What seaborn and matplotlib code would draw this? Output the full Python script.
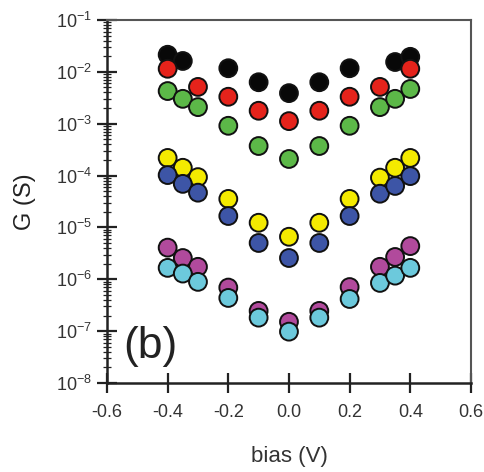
import numpy as np
import pandas as pd
import matplotlib
matplotlib.use("Agg")
import matplotlib.pyplot as plt
from matplotlib.ticker import LogLocator, LogFormatterMathtext, NullFormatter, FixedLocator
import seaborn as sns

# bias points (V)
bias = [-0.4, -0.35, -0.3, -0.2, -0.1, 0.0, 0.1, 0.2, 0.3, 0.35, 0.4]

# log10 of conductance G (S) for each curve; None = no measurement
logG_black = [-1.67, -1.79, None, -1.93, -2.20, -2.41, -2.20, -1.93, None, -1.81, -1.71]
logG_red = [-1.94, None, -2.29, -2.48, -2.75, -2.95, -2.75, -2.48, -2.29, None, -1.94]
logG_green = [-2.37, -2.52, -2.68, -3.04, -3.43, -3.68, -3.43, -3.04, -2.68, -2.52, -2.33]
logG_yellow = [-3.66, -3.85, -4.03, -4.45, -4.91, -5.18, -4.91, -4.45, -4.04, -3.85, -3.66]
logG_blue = [-3.99, -4.16, -4.33, -4.78, -5.30, -5.59, -5.30, -4.78, -4.35, -4.20, -4.01]
logG_magenta = [-5.39, -5.59, -5.76, -6.16, -6.61, -6.82, -6.61, -6.15, -5.76, -5.57, -5.36]
logG_cyan = [-5.78, -5.89, -6.05, -6.36, -6.74, -7.01, -6.74, -6.38, -6.07, -5.93, -5.78]

series_names = ["black", "red", "green", "yellow", "blue", "magenta", "cyan"]
series_values = [logG_black, logG_red, logG_green, logG_yellow,
                 logG_blue, logG_magenta, logG_cyan]
series_colors = ["#080808", "#e5231b", "#5cb848", "#f4ea00",
                 "#3d55a6", "#b14a9c", "#6cc9dc"]

x_ticks = [-0.6, -0.4, -0.2, 0.0, 0.2, 0.4, 0.6]
x_ticklabels = ["-0.6", "-0.4", "-0.2", "0.0", "0.2", "0.4", "0.6"]

rows = []
for name, vals in zip(series_names, series_values):
    for b, v in zip(bias, vals):
        if v is not None:
            rows.append({"bias": b, "G": 10.0 ** v, "curve": name})
df = pd.DataFrame(rows)

sns.set_style("ticks")
plt.rcParams["font.family"] = ["Liberation Sans", "DejaVu Sans"]
plt.rcParams["mathtext.fontset"] = "custom"
plt.rcParams["mathtext.rm"] = "Liberation Sans"
plt.rcParams["axes.unicode_minus"] = False

fig = plt.figure(figsize=(4.85, 4.72), dpi=100)
ax = fig.add_axes([0.2206, 0.1886, 0.7504, 0.769])

sns.scatterplot(data=df, x="bias", y="G", hue="curve", hue_order=series_names,
                palette=series_colors, s=165, edgecolor="#111111", linewidth=1.4,
                legend=False, ax=ax, zorder=3)

ax.set_yscale("log")
ax.set_ylim(1e-8, 1e-1)
ax.set_xlim(-0.6, 0.6)

ax.xaxis.set_major_locator(FixedLocator(x_ticks))
ax.set_xticklabels(x_ticklabels)
ax.yaxis.set_major_locator(LogLocator(base=10, numticks=20))
ax.yaxis.set_major_formatter(LogFormatterMathtext())
ax.yaxis.set_minor_locator(LogLocator(base=10, subs=np.arange(2, 10), numticks=20))
ax.yaxis.set_minor_formatter(NullFormatter())

ax.tick_params(axis="x", which="major", direction="inout", length=14, width=1.6,
               color="#222222", labelsize=13, labelcolor="#333333", pad=8)
ax.tick_params(axis="y", which="major", direction="inout", length=14, width=1.6,
               color="#222222", labelsize=13, labelcolor="#333333", pad=4)
ax.tick_params(axis="y", which="minor", direction="inout", length=6, width=0.9,
               color="#222222")
ax.tick_params(top=False, right=False, which="both")

for side in ["left", "bottom"]:
    ax.spines[side].set_color("#222222")
    ax.spines[side].set_linewidth(1.8)
for side in ["top", "right"]:
    ax.spines[side].set_color("#555555")
    ax.spines[side].set_linewidth(1.5)

ax.set_xlabel("bias (V)", fontsize=16, color="#333333", labelpad=18)
ax.set_ylabel("G (S)", fontsize=17, color="#222222", labelpad=14)

ax.text(0.045, 0.045, "(b)", transform=ax.transAxes, fontsize=32,
        color="#222222", ha="left", va="bottom")

fig.savefig("out.png", dpi=100)
